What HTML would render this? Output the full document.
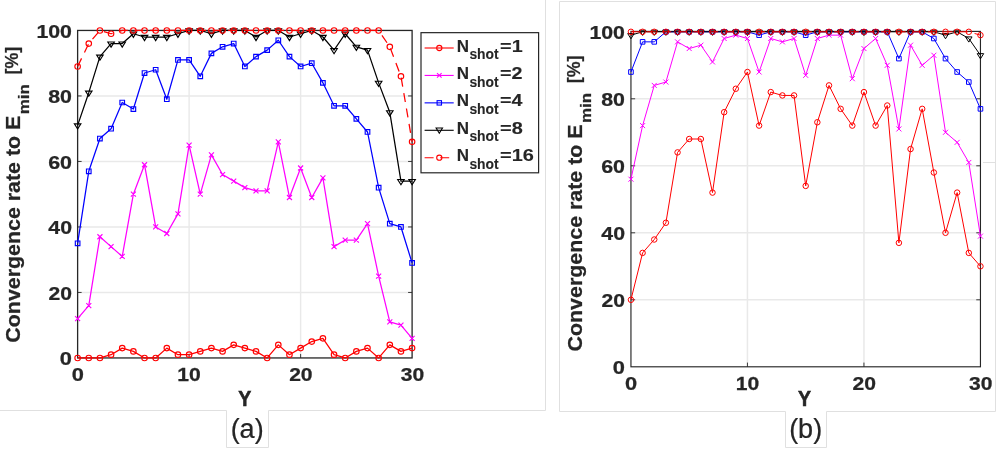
<!DOCTYPE html>
<html><head><meta charset="utf-8"><style>
html,body{margin:0;padding:0;background:#fff;}
svg{display:block;will-change:transform;}
text{font-family:"Liberation Sans", sans-serif;fill:#262626;stroke:#262626;stroke-width:0.25px;}
</style></head><body>
<svg width="996" height="449" viewBox="0 0 996 449">
<rect width="996" height="449" fill="#fff"/>
<path d="M0,410.5H226.5V447.5H268.5V410.5H545.5V0" fill="none" stroke="#e0e0e0" stroke-width="1"/><path d="M559.5,1.5H995.5V411.5H826.5V447.5H785.5V411.5H559.5Z" fill="none" stroke="#e0e0e0" stroke-width="1"/><line x1="983" y1="162.5" x2="995" y2="162.5" stroke="#e0e0e0" stroke-width="1"/>
<line x1="189.11" y1="30.45" x2="189.11" y2="357.95" stroke="#e9e9e9" stroke-width="1.4"/>
<line x1="300.61" y1="30.45" x2="300.61" y2="357.95" stroke="#e9e9e9" stroke-width="1.4"/>
<line x1="77.62" y1="292.45" x2="412.1" y2="292.45" stroke="#e9e9e9" stroke-width="1.4"/>
<line x1="77.62" y1="226.95" x2="412.1" y2="226.95" stroke="#e9e9e9" stroke-width="1.4"/>
<line x1="77.62" y1="161.45" x2="412.1" y2="161.45" stroke="#e9e9e9" stroke-width="1.4"/>
<line x1="77.62" y1="95.95" x2="412.1" y2="95.95" stroke="#e9e9e9" stroke-width="1.4"/>
<rect x="77.62" y="30.45" width="334.48" height="327.5" fill="none" stroke="#262626" stroke-width="1.3"/>
<path d="M189.11,357.95v-4M189.11,30.45v4M300.61,357.95v-4M300.61,30.45v4M77.62,292.45h4M412.1,292.45h-4M77.62,226.95h4M412.1,226.95h-4M77.62,161.45h4M412.1,161.45h-4M77.62,95.95h4M412.1,95.95h-4" stroke="#262626" stroke-width="0.9" fill="none"/>
<polyline points="77.62,357.95 88.77,357.95 99.92,357.95 111.07,354.68 122.22,348.12 133.37,351.4 144.52,357.95 155.67,357.95 166.81,348.12 177.96,354.68 189.11,354.68 200.26,351.4 211.41,348.12 222.56,351.4 233.71,344.85 244.86,348.12 256.01,351.4 267.16,357.95 278.31,344.85 289.46,354.68 300.61,348.12 311.76,341.57 322.91,338.3 334.05,354.68 345.2,357.95 356.35,351.4 367.5,348.12 378.65,357.95 389.8,344.85 400.95,351.4 412.1,348.12" fill="none" stroke="#ff0000" stroke-width="1.25" stroke-linejoin="round"/>
<g fill="none" stroke="#ff0000" stroke-width="1.15"><circle cx="77.62" cy="357.95" r="2.75"/><circle cx="88.77" cy="357.95" r="2.75"/><circle cx="99.92" cy="357.95" r="2.75"/><circle cx="111.07" cy="354.68" r="2.75"/><circle cx="122.22" cy="348.12" r="2.75"/><circle cx="133.37" cy="351.4" r="2.75"/><circle cx="144.52" cy="357.95" r="2.75"/><circle cx="155.67" cy="357.95" r="2.75"/><circle cx="166.81" cy="348.12" r="2.75"/><circle cx="177.96" cy="354.68" r="2.75"/><circle cx="189.11" cy="354.68" r="2.75"/><circle cx="200.26" cy="351.4" r="2.75"/><circle cx="211.41" cy="348.12" r="2.75"/><circle cx="222.56" cy="351.4" r="2.75"/><circle cx="233.71" cy="344.85" r="2.75"/><circle cx="244.86" cy="348.12" r="2.75"/><circle cx="256.01" cy="351.4" r="2.75"/><circle cx="267.16" cy="357.95" r="2.75"/><circle cx="278.31" cy="344.85" r="2.75"/><circle cx="289.46" cy="354.68" r="2.75"/><circle cx="300.61" cy="348.12" r="2.75"/><circle cx="311.76" cy="341.57" r="2.75"/><circle cx="322.91" cy="338.3" r="2.75"/><circle cx="334.05" cy="354.68" r="2.75"/><circle cx="345.2" cy="357.95" r="2.75"/><circle cx="356.35" cy="351.4" r="2.75"/><circle cx="367.5" cy="348.12" r="2.75"/><circle cx="378.65" cy="357.95" r="2.75"/><circle cx="389.8" cy="344.85" r="2.75"/><circle cx="400.95" cy="351.4" r="2.75"/><circle cx="412.1" cy="348.12" r="2.75"/></g>
<polyline points="77.62,318.65 88.77,305.55 99.92,236.77 111.07,246.6 122.22,256.43 133.37,194.2 144.52,164.72 155.67,226.95 166.81,233.5 177.96,213.85 189.11,145.07 200.26,194.2 211.41,154.9 222.56,174.55 233.71,181.1 244.86,187.65 256.01,190.92 267.16,190.92 278.31,141.8 289.46,197.47 300.61,168 311.76,197.47 322.91,177.82 334.05,246.6 345.2,240.05 356.35,240.05 367.5,223.67 378.65,276.07 389.8,321.93 400.95,325.2 412.1,338.3" fill="none" stroke="#ff00ff" stroke-width="1.25" stroke-linejoin="round"/>
<path d="M75.12,316.15L80.12,321.15M75.12,321.15L80.12,316.15M86.27,303.05L91.27,308.05M86.27,308.05L91.27,303.05M97.42,234.27L102.42,239.27M97.42,239.27L102.42,234.27M108.57,244.1L113.57,249.1M108.57,249.1L113.57,244.1M119.72,253.93L124.72,258.93M119.72,258.93L124.72,253.93M130.87,191.7L135.87,196.7M130.87,196.7L135.87,191.7M142.02,162.22L147.02,167.22M142.02,167.22L147.02,162.22M153.17,224.45L158.17,229.45M153.17,229.45L158.17,224.45M164.31,231L169.31,236M164.31,236L169.31,231M175.46,211.35L180.46,216.35M175.46,216.35L180.46,211.35M186.61,142.57L191.61,147.57M186.61,147.57L191.61,142.57M197.76,191.7L202.76,196.7M197.76,196.7L202.76,191.7M208.91,152.4L213.91,157.4M208.91,157.4L213.91,152.4M220.06,172.05L225.06,177.05M220.06,177.05L225.06,172.05M231.21,178.6L236.21,183.6M231.21,183.6L236.21,178.6M242.36,185.15L247.36,190.15M242.36,190.15L247.36,185.15M253.51,188.42L258.51,193.42M253.51,193.42L258.51,188.42M264.66,188.42L269.66,193.42M264.66,193.42L269.66,188.42M275.81,139.3L280.81,144.3M275.81,144.3L280.81,139.3M286.96,194.97L291.96,199.97M286.96,199.97L291.96,194.97M298.11,165.5L303.11,170.5M298.11,170.5L303.11,165.5M309.26,194.97L314.26,199.97M309.26,199.97L314.26,194.97M320.41,175.32L325.41,180.32M320.41,180.32L325.41,175.32M331.55,244.1L336.55,249.1M331.55,249.1L336.55,244.1M342.7,237.55L347.7,242.55M342.7,242.55L347.7,237.55M353.85,237.55L358.85,242.55M353.85,242.55L358.85,237.55M365,221.17L370,226.17M365,226.17L370,221.17M376.15,273.57L381.15,278.57M376.15,278.57L381.15,273.57M387.3,319.43L392.3,324.43M387.3,324.43L392.3,319.43M398.45,322.7L403.45,327.7M398.45,327.7L403.45,322.7M409.6,335.8L414.6,340.8M409.6,340.8L414.6,335.8" fill="none" stroke="#ff00ff" stroke-width="1.15"/>
<polyline points="77.62,243.32 88.77,171.28 99.92,138.53 111.07,128.7 122.22,102.5 133.37,109.05 144.52,73.02 155.67,69.75 166.81,99.23 177.96,59.93 189.11,59.93 200.26,76.3 211.41,53.38 222.56,46.82 233.71,43.55 244.86,66.48 256.01,56.65 267.16,50.1 278.31,40.27 289.46,56.65 300.61,66.48 311.76,63.2 322.91,82.85 334.05,105.78 345.2,105.78 356.35,118.88 367.5,131.97 378.65,187.65 389.8,223.67 400.95,226.95 412.1,262.98" fill="none" stroke="#0000ff" stroke-width="1.25" stroke-linejoin="round"/>
<path d="M75.32,241.02h4.6v4.6h-4.6zM86.47,168.97h4.6v4.6h-4.6zM97.62,136.22h4.6v4.6h-4.6zM108.77,126.4h4.6v4.6h-4.6zM119.92,100.2h4.6v4.6h-4.6zM131.07,106.75h4.6v4.6h-4.6zM142.22,70.72h4.6v4.6h-4.6zM153.37,67.45h4.6v4.6h-4.6zM164.51,96.93h4.6v4.6h-4.6zM175.66,57.63h4.6v4.6h-4.6zM186.81,57.63h4.6v4.6h-4.6zM197.96,74h4.6v4.6h-4.6zM209.11,51.08h4.6v4.6h-4.6zM220.26,44.52h4.6v4.6h-4.6zM231.41,41.25h4.6v4.6h-4.6zM242.56,64.18h4.6v4.6h-4.6zM253.71,54.35h4.6v4.6h-4.6zM264.86,47.8h4.6v4.6h-4.6zM276.01,37.97h4.6v4.6h-4.6zM287.16,54.35h4.6v4.6h-4.6zM298.31,64.18h4.6v4.6h-4.6zM309.46,60.9h4.6v4.6h-4.6zM320.61,80.55h4.6v4.6h-4.6zM331.75,103.48h4.6v4.6h-4.6zM342.9,103.48h4.6v4.6h-4.6zM354.05,116.58h4.6v4.6h-4.6zM365.2,129.67h4.6v4.6h-4.6zM376.35,185.35h4.6v4.6h-4.6zM387.5,221.37h4.6v4.6h-4.6zM398.65,224.65h4.6v4.6h-4.6zM409.8,260.68h4.6v4.6h-4.6z" fill="none" stroke="#0000ff" stroke-width="1.15"/>
<polyline points="77.62,125.42 88.77,92.68 99.92,56.65 111.07,43.55 122.22,43.55 133.37,33.73 144.52,37 155.67,37 166.81,37 177.96,33.73 189.11,30.45 200.26,30.45 211.41,33.73 222.56,30.45 233.71,30.45 244.86,30.45 256.01,37 267.16,30.45 278.31,30.45 289.46,37 300.61,33.73 311.76,30.45 322.91,37 334.05,50.1 345.2,33.73 356.35,46.82 367.5,50.1 378.65,82.85 389.8,112.32 400.95,181.1 412.1,181.1" fill="none" stroke="#000000" stroke-width="1.25" stroke-linejoin="round"/>
<path d="M74.37,123.82L80.87,123.82L77.62,129.02zM85.52,91.08L92.02,91.08L88.77,96.28zM96.67,55.05L103.17,55.05L99.92,60.25zM107.82,41.95L114.32,41.95L111.07,47.15zM118.97,41.95L125.47,41.95L122.22,47.15zM130.12,32.13L136.62,32.13L133.37,37.33zM141.27,35.4L147.77,35.4L144.52,40.6zM152.42,35.4L158.92,35.4L155.67,40.6zM163.56,35.4L170.06,35.4L166.81,40.6zM174.71,32.13L181.21,32.13L177.96,37.33zM185.86,28.85L192.36,28.85L189.11,34.05zM197.01,28.85L203.51,28.85L200.26,34.05zM208.16,32.13L214.66,32.13L211.41,37.33zM219.31,28.85L225.81,28.85L222.56,34.05zM230.46,28.85L236.96,28.85L233.71,34.05zM241.61,28.85L248.11,28.85L244.86,34.05zM252.76,35.4L259.26,35.4L256.01,40.6zM263.91,28.85L270.41,28.85L267.16,34.05zM275.06,28.85L281.56,28.85L278.31,34.05zM286.21,35.4L292.71,35.4L289.46,40.6zM297.36,32.13L303.86,32.13L300.61,37.33zM308.51,28.85L315.01,28.85L311.76,34.05zM319.66,35.4L326.16,35.4L322.91,40.6zM330.8,48.5L337.3,48.5L334.05,53.7zM341.95,32.13L348.45,32.13L345.2,37.33zM353.1,45.22L359.6,45.22L356.35,50.42zM364.25,48.5L370.75,48.5L367.5,53.7zM375.4,81.25L381.9,81.25L378.65,86.45zM386.55,110.72L393.05,110.72L389.8,115.92zM397.7,179.5L404.2,179.5L400.95,184.7zM408.85,179.5L415.35,179.5L412.1,184.7z" fill="none" stroke="#000000" stroke-width="1.15" stroke-linejoin="miter"/>
<polyline points="77.62,66.48 88.77,43.55 99.92,30.45 111.07,33.73 122.22,30.45 133.37,30.45 144.52,30.45 155.67,30.45 166.81,30.45 177.96,30.45 189.11,30.45 200.26,30.45 211.41,30.45 222.56,30.45 233.71,30.45 244.86,30.45 256.01,30.45 267.16,30.45 278.31,30.45 289.46,30.45 300.61,30.45 311.76,30.45 322.91,30.45 334.05,30.45 345.2,30.45 356.35,30.45 367.5,30.45 378.65,30.45 389.8,46.82 400.95,76.3 412.1,141.8" fill="none" stroke="#ff0000" stroke-width="1.25" stroke-linejoin="round" stroke-dasharray="9,6.63"/>
<g fill="none" stroke="#ff0000" stroke-width="1.15"><circle cx="77.62" cy="66.48" r="2.75"/><circle cx="88.77" cy="43.55" r="2.75"/><circle cx="99.92" cy="30.45" r="2.75"/><circle cx="111.07" cy="33.73" r="2.75"/><circle cx="122.22" cy="30.45" r="2.75"/><circle cx="133.37" cy="30.45" r="2.75"/><circle cx="144.52" cy="30.45" r="2.75"/><circle cx="155.67" cy="30.45" r="2.75"/><circle cx="166.81" cy="30.45" r="2.75"/><circle cx="177.96" cy="30.45" r="2.75"/><circle cx="189.11" cy="30.45" r="2.75"/><circle cx="200.26" cy="30.45" r="2.75"/><circle cx="211.41" cy="30.45" r="2.75"/><circle cx="222.56" cy="30.45" r="2.75"/><circle cx="233.71" cy="30.45" r="2.75"/><circle cx="244.86" cy="30.45" r="2.75"/><circle cx="256.01" cy="30.45" r="2.75"/><circle cx="267.16" cy="30.45" r="2.75"/><circle cx="278.31" cy="30.45" r="2.75"/><circle cx="289.46" cy="30.45" r="2.75"/><circle cx="300.61" cy="30.45" r="2.75"/><circle cx="311.76" cy="30.45" r="2.75"/><circle cx="322.91" cy="30.45" r="2.75"/><circle cx="334.05" cy="30.45" r="2.75"/><circle cx="345.2" cy="30.45" r="2.75"/><circle cx="356.35" cy="30.45" r="2.75"/><circle cx="367.5" cy="30.45" r="2.75"/><circle cx="378.65" cy="30.45" r="2.75"/><circle cx="389.8" cy="46.82" r="2.75"/><circle cx="400.95" cy="76.3" r="2.75"/><circle cx="412.1" cy="141.8" r="2.75"/></g>
<line x1="747.45" y1="31.8" x2="747.45" y2="366.8" stroke="#e9e9e9" stroke-width="1.5"/>
<line x1="863.95" y1="31.8" x2="863.95" y2="366.8" stroke="#e9e9e9" stroke-width="1.5"/>
<line x1="630.95" y1="299.8" x2="980.45" y2="299.8" stroke="#e9e9e9" stroke-width="1.5"/>
<line x1="630.95" y1="232.8" x2="980.45" y2="232.8" stroke="#e9e9e9" stroke-width="1.5"/>
<line x1="630.95" y1="165.8" x2="980.45" y2="165.8" stroke="#e9e9e9" stroke-width="1.5"/>
<line x1="630.95" y1="98.8" x2="980.45" y2="98.8" stroke="#e9e9e9" stroke-width="1.5"/>
<rect x="630.95" y="31.4" width="349.5" height="335.4" fill="none" stroke="#262626" stroke-width="1.15"/>
<path d="M747.45,366.8v-4.2M747.45,31.4v4.2M863.95,366.8v-4.2M863.95,31.4v4.2M630.95,299.8h4.2M980.45,299.8h-4.2M630.95,232.8h4.2M980.45,232.8h-4.2M630.95,165.8h4.2M980.45,165.8h-4.2M630.95,98.8h4.2M980.45,98.8h-4.2" stroke="#262626" stroke-width="0.9" fill="none"/>
<polyline points="630.95,299.8 642.6,252.9 654.25,239.5 665.9,222.75 677.55,152.4 689.2,139 700.85,139 712.5,192.6 724.15,112.2 735.8,88.75 747.45,72 759.1,125.6 770.75,92.1 782.4,95.45 794.05,95.45 805.7,185.9 817.35,122.25 829,85.4 840.65,108.85 852.3,125.6 863.95,92.1 875.6,125.6 887.25,105.5 898.9,242.85 910.55,149.05 922.2,108.85 933.85,172.5 945.5,232.8 957.15,192.6 968.8,252.9 980.45,266.3" fill="none" stroke="#ff0000" stroke-width="1.0" stroke-linejoin="round"/>
<g fill="none" stroke="#ff0000" stroke-width="1.0"><circle cx="630.95" cy="299.8" r="2.75"/><circle cx="642.6" cy="252.9" r="2.75"/><circle cx="654.25" cy="239.5" r="2.75"/><circle cx="665.9" cy="222.75" r="2.75"/><circle cx="677.55" cy="152.4" r="2.75"/><circle cx="689.2" cy="139" r="2.75"/><circle cx="700.85" cy="139" r="2.75"/><circle cx="712.5" cy="192.6" r="2.75"/><circle cx="724.15" cy="112.2" r="2.75"/><circle cx="735.8" cy="88.75" r="2.75"/><circle cx="747.45" cy="72" r="2.75"/><circle cx="759.1" cy="125.6" r="2.75"/><circle cx="770.75" cy="92.1" r="2.75"/><circle cx="782.4" cy="95.45" r="2.75"/><circle cx="794.05" cy="95.45" r="2.75"/><circle cx="805.7" cy="185.9" r="2.75"/><circle cx="817.35" cy="122.25" r="2.75"/><circle cx="829" cy="85.4" r="2.75"/><circle cx="840.65" cy="108.85" r="2.75"/><circle cx="852.3" cy="125.6" r="2.75"/><circle cx="863.95" cy="92.1" r="2.75"/><circle cx="875.6" cy="125.6" r="2.75"/><circle cx="887.25" cy="105.5" r="2.75"/><circle cx="898.9" cy="242.85" r="2.75"/><circle cx="910.55" cy="149.05" r="2.75"/><circle cx="922.2" cy="108.85" r="2.75"/><circle cx="933.85" cy="172.5" r="2.75"/><circle cx="945.5" cy="232.8" r="2.75"/><circle cx="957.15" cy="192.6" r="2.75"/><circle cx="968.8" cy="252.9" r="2.75"/><circle cx="980.45" cy="266.3" r="2.75"/></g>
<polyline points="630.95,179.2 642.6,125.6 654.25,85.4 665.9,82.05 677.55,41.85 689.2,48.55 700.85,45.2 712.5,61.95 724.15,38.5 735.8,35.15 747.45,38.5 759.1,72 770.75,38.5 782.4,41.85 794.05,38.5 805.7,75.35 817.35,38.5 829,35.15 840.65,35.15 852.3,78.7 863.95,48.55 875.6,38.5 887.25,65.3 898.9,128.95 910.55,45.2 922.2,65.3 933.85,55.25 945.5,132.3 957.15,142.35 968.8,162.45 980.45,236.15" fill="none" stroke="#ff00ff" stroke-width="1.0" stroke-linejoin="round"/>
<path d="M628.45,176.7L633.45,181.7M628.45,181.7L633.45,176.7M640.1,123.1L645.1,128.1M640.1,128.1L645.1,123.1M651.75,82.9L656.75,87.9M651.75,87.9L656.75,82.9M663.4,79.55L668.4,84.55M663.4,84.55L668.4,79.55M675.05,39.35L680.05,44.35M675.05,44.35L680.05,39.35M686.7,46.05L691.7,51.05M686.7,51.05L691.7,46.05M698.35,42.7L703.35,47.7M698.35,47.7L703.35,42.7M710,59.45L715,64.45M710,64.45L715,59.45M721.65,36L726.65,41M721.65,41L726.65,36M733.3,32.65L738.3,37.65M733.3,37.65L738.3,32.65M744.95,36L749.95,41M744.95,41L749.95,36M756.6,69.5L761.6,74.5M756.6,74.5L761.6,69.5M768.25,36L773.25,41M768.25,41L773.25,36M779.9,39.35L784.9,44.35M779.9,44.35L784.9,39.35M791.55,36L796.55,41M791.55,41L796.55,36M803.2,72.85L808.2,77.85M803.2,77.85L808.2,72.85M814.85,36L819.85,41M814.85,41L819.85,36M826.5,32.65L831.5,37.65M826.5,37.65L831.5,32.65M838.15,32.65L843.15,37.65M838.15,37.65L843.15,32.65M849.8,76.2L854.8,81.2M849.8,81.2L854.8,76.2M861.45,46.05L866.45,51.05M861.45,51.05L866.45,46.05M873.1,36L878.1,41M873.1,41L878.1,36M884.75,62.8L889.75,67.8M884.75,67.8L889.75,62.8M896.4,126.45L901.4,131.45M896.4,131.45L901.4,126.45M908.05,42.7L913.05,47.7M908.05,47.7L913.05,42.7M919.7,62.8L924.7,67.8M919.7,67.8L924.7,62.8M931.35,52.75L936.35,57.75M931.35,57.75L936.35,52.75M943,129.8L948,134.8M943,134.8L948,129.8M954.65,139.85L959.65,144.85M954.65,144.85L959.65,139.85M966.3,159.95L971.3,164.95M966.3,164.95L971.3,159.95M977.95,233.65L982.95,238.65M977.95,238.65L982.95,233.65" fill="none" stroke="#ff00ff" stroke-width="1.0"/>
<polyline points="630.95,72 642.6,41.85 654.25,41.85 665.9,31.8 677.55,31.8 689.2,31.8 700.85,31.8 712.5,31.8 724.15,31.8 735.8,31.8 747.45,31.8 759.1,35.15 770.75,31.8 782.4,31.8 794.05,31.8 805.7,35.15 817.35,31.8 829,31.8 840.65,31.8 852.3,31.8 863.95,31.8 875.6,31.8 887.25,31.8 898.9,58.6 910.55,31.8 922.2,31.8 933.85,38.5 945.5,58.6 957.15,72 968.8,82.05 980.45,108.85" fill="none" stroke="#0000ff" stroke-width="1.0" stroke-linejoin="round"/>
<path d="M628.65,69.7h4.6v4.6h-4.6zM640.3,39.55h4.6v4.6h-4.6zM651.95,39.55h4.6v4.6h-4.6zM663.6,29.5h4.6v4.6h-4.6zM675.25,29.5h4.6v4.6h-4.6zM686.9,29.5h4.6v4.6h-4.6zM698.55,29.5h4.6v4.6h-4.6zM710.2,29.5h4.6v4.6h-4.6zM721.85,29.5h4.6v4.6h-4.6zM733.5,29.5h4.6v4.6h-4.6zM745.15,29.5h4.6v4.6h-4.6zM756.8,32.85h4.6v4.6h-4.6zM768.45,29.5h4.6v4.6h-4.6zM780.1,29.5h4.6v4.6h-4.6zM791.75,29.5h4.6v4.6h-4.6zM803.4,32.85h4.6v4.6h-4.6zM815.05,29.5h4.6v4.6h-4.6zM826.7,29.5h4.6v4.6h-4.6zM838.35,29.5h4.6v4.6h-4.6zM850,29.5h4.6v4.6h-4.6zM861.65,29.5h4.6v4.6h-4.6zM873.3,29.5h4.6v4.6h-4.6zM884.95,29.5h4.6v4.6h-4.6zM896.6,56.3h4.6v4.6h-4.6zM908.25,29.5h4.6v4.6h-4.6zM919.9,29.5h4.6v4.6h-4.6zM931.55,36.2h4.6v4.6h-4.6zM943.2,56.3h4.6v4.6h-4.6zM954.85,69.7h4.6v4.6h-4.6zM966.5,79.75h4.6v4.6h-4.6zM978.15,106.55h4.6v4.6h-4.6z" fill="none" stroke="#0000ff" stroke-width="1.0"/>
<polyline points="630.95,35.15 642.6,31.8 654.25,31.8 665.9,31.8 677.55,31.8 689.2,31.8 700.85,31.8 712.5,31.8 724.15,31.8 735.8,31.8 747.45,31.8 759.1,31.8 770.75,31.8 782.4,31.8 794.05,31.8 805.7,31.8 817.35,31.8 829,31.8 840.65,31.8 852.3,31.8 863.95,31.8 875.6,31.8 887.25,31.8 898.9,31.8 910.55,31.8 922.2,31.8 933.85,31.8 945.5,35.15 957.15,31.8 968.8,38.5 980.45,55.25" fill="none" stroke="#000000" stroke-width="1.0" stroke-linejoin="round"/>
<path d="M627.7,33.55L634.2,33.55L630.95,38.75zM639.35,30.2L645.85,30.2L642.6,35.4zM651,30.2L657.5,30.2L654.25,35.4zM662.65,30.2L669.15,30.2L665.9,35.4zM674.3,30.2L680.8,30.2L677.55,35.4zM685.95,30.2L692.45,30.2L689.2,35.4zM697.6,30.2L704.1,30.2L700.85,35.4zM709.25,30.2L715.75,30.2L712.5,35.4zM720.9,30.2L727.4,30.2L724.15,35.4zM732.55,30.2L739.05,30.2L735.8,35.4zM744.2,30.2L750.7,30.2L747.45,35.4zM755.85,30.2L762.35,30.2L759.1,35.4zM767.5,30.2L774,30.2L770.75,35.4zM779.15,30.2L785.65,30.2L782.4,35.4zM790.8,30.2L797.3,30.2L794.05,35.4zM802.45,30.2L808.95,30.2L805.7,35.4zM814.1,30.2L820.6,30.2L817.35,35.4zM825.75,30.2L832.25,30.2L829,35.4zM837.4,30.2L843.9,30.2L840.65,35.4zM849.05,30.2L855.55,30.2L852.3,35.4zM860.7,30.2L867.2,30.2L863.95,35.4zM872.35,30.2L878.85,30.2L875.6,35.4zM884,30.2L890.5,30.2L887.25,35.4zM895.65,30.2L902.15,30.2L898.9,35.4zM907.3,30.2L913.8,30.2L910.55,35.4zM918.95,30.2L925.45,30.2L922.2,35.4zM930.6,30.2L937.1,30.2L933.85,35.4zM942.25,33.55L948.75,33.55L945.5,38.75zM953.9,30.2L960.4,30.2L957.15,35.4zM965.55,36.9L972.05,36.9L968.8,42.1zM977.2,53.65L983.7,53.65L980.45,58.85z" fill="none" stroke="#000000" stroke-width="1.0" stroke-linejoin="miter"/>
<polyline points="630.95,31.8 642.6,31.8 654.25,31.8 665.9,31.8 677.55,31.8 689.2,31.8 700.85,31.8 712.5,31.8 724.15,31.8 735.8,31.8 747.45,31.8 759.1,31.8 770.75,31.8 782.4,31.8 794.05,31.8 805.7,31.8 817.35,31.8 829,31.8 840.65,31.8 852.3,31.8 863.95,31.8 875.6,31.8 887.25,31.8 898.9,31.8 910.55,31.8 922.2,31.8 933.85,31.8 945.5,31.8 957.15,31.8 968.8,31.8 980.45,35.15" fill="none" stroke="#ff0000" stroke-width="1.0" stroke-linejoin="round" stroke-dasharray="9,6.63"/>
<g fill="none" stroke="#ff0000" stroke-width="1.0"><circle cx="630.95" cy="31.8" r="2.75"/><circle cx="642.6" cy="31.8" r="2.75"/><circle cx="654.25" cy="31.8" r="2.75"/><circle cx="665.9" cy="31.8" r="2.75"/><circle cx="677.55" cy="31.8" r="2.75"/><circle cx="689.2" cy="31.8" r="2.75"/><circle cx="700.85" cy="31.8" r="2.75"/><circle cx="712.5" cy="31.8" r="2.75"/><circle cx="724.15" cy="31.8" r="2.75"/><circle cx="735.8" cy="31.8" r="2.75"/><circle cx="747.45" cy="31.8" r="2.75"/><circle cx="759.1" cy="31.8" r="2.75"/><circle cx="770.75" cy="31.8" r="2.75"/><circle cx="782.4" cy="31.8" r="2.75"/><circle cx="794.05" cy="31.8" r="2.75"/><circle cx="805.7" cy="31.8" r="2.75"/><circle cx="817.35" cy="31.8" r="2.75"/><circle cx="829" cy="31.8" r="2.75"/><circle cx="840.65" cy="31.8" r="2.75"/><circle cx="852.3" cy="31.8" r="2.75"/><circle cx="863.95" cy="31.8" r="2.75"/><circle cx="875.6" cy="31.8" r="2.75"/><circle cx="887.25" cy="31.8" r="2.75"/><circle cx="898.9" cy="31.8" r="2.75"/><circle cx="910.55" cy="31.8" r="2.75"/><circle cx="922.2" cy="31.8" r="2.75"/><circle cx="933.85" cy="31.8" r="2.75"/><circle cx="945.5" cy="31.8" r="2.75"/><circle cx="957.15" cy="31.8" r="2.75"/><circle cx="968.8" cy="31.8" r="2.75"/><circle cx="980.45" cy="35.15" r="2.75"/></g>
<rect x="421" y="32.66" width="117.6" height="140.14" fill="#fff" stroke="#262626" stroke-width="1.2"/><line x1="424.6" y1="48" x2="453.7" y2="48" stroke="#ff0000" stroke-width="1.1"/><circle cx="439.3" cy="48" r="2.6" fill="none" stroke="#ff0000" stroke-width="1.1"/><text transform="translate(456.86,51.5) scale(1.0372,1)" font-size="16.4" font-weight="bold" style="stroke-width:0.1px">N</text><text transform="translate(469.41,59.1) scale(1.0044,1)" font-size="13.8" font-weight="bold" style="stroke-width:0.1px">shot</text><text transform="translate(500.08,51.5) scale(1.2071,1)" font-size="16.4" font-weight="bold" style="stroke-width:0.1px">=1</text><line x1="424.6" y1="75.43" x2="453.7" y2="75.43" stroke="#ff00ff" stroke-width="1.1"/><path d="M437.0,73.13l4.6,4.6M437.0,77.73l4.6,-4.6" stroke="#ff00ff" stroke-width="1.1"/><text transform="translate(456.86,78.93) scale(1.0372,1)" font-size="16.4" font-weight="bold" style="stroke-width:0.1px">N</text><text transform="translate(469.41,86.53) scale(1.0044,1)" font-size="13.8" font-weight="bold" style="stroke-width:0.1px">shot</text><text transform="translate(500.08,78.93) scale(1.2048,1)" font-size="16.4" font-weight="bold" style="stroke-width:0.1px">=2</text><line x1="424.6" y1="102.86" x2="453.7" y2="102.86" stroke="#0000ff" stroke-width="1.1"/><rect x="437.1" y="100.66" width="4.4" height="4.4" fill="none" stroke="#0000ff" stroke-width="1.1"/><text transform="translate(456.86,106.36) scale(1.0372,1)" font-size="16.4" font-weight="bold" style="stroke-width:0.1px">N</text><text transform="translate(469.41,113.96) scale(1.0044,1)" font-size="13.8" font-weight="bold" style="stroke-width:0.1px">shot</text><text transform="translate(500.08,106.36) scale(1.2023,1)" font-size="16.4" font-weight="bold" style="stroke-width:0.1px">=4</text><line x1="424.6" y1="130.29" x2="453.7" y2="130.29" stroke="#000000" stroke-width="1.1"/><path d="M436.1,127.99h6.4l-3.2,5.3z" fill="none" stroke="#000000" stroke-width="1.1"/><text transform="translate(456.86,133.79) scale(1.0372,1)" font-size="16.4" font-weight="bold" style="stroke-width:0.1px">N</text><text transform="translate(469.41,141.39) scale(1.0044,1)" font-size="13.8" font-weight="bold" style="stroke-width:0.1px">shot</text><text transform="translate(500.07,133.79) scale(1.2165,1)" font-size="16.4" font-weight="bold" style="stroke-width:0.1px">=8</text><line x1="424.6" y1="157.72" x2="453.7" y2="157.72" stroke="#ff0000" stroke-width="1.1" stroke-dasharray="9,6.6"/><circle cx="439.3" cy="157.72" r="2.6" fill="none" stroke="#ff0000" stroke-width="1.1"/><text transform="translate(456.86,161.22) scale(1.0372,1)" font-size="16.4" font-weight="bold" style="stroke-width:0.1px">N</text><text transform="translate(469.41,168.82) scale(1.0044,1)" font-size="13.8" font-weight="bold" style="stroke-width:0.1px">shot</text><text transform="translate(500.07,161.22) scale(1.2164,1)" font-size="16.4" font-weight="bold" style="stroke-width:0.1px">=16</text>
<text transform="translate(59.85,365.28) scale(1.1673,1)" font-size="18.7" font-weight="bold">0</text><text transform="translate(612.85,374.13) scale(1.1673,1)" font-size="18.7" font-weight="bold">0</text><text transform="translate(48.49,299.78) scale(1.1286,1)" font-size="18.7" font-weight="bold">20</text><text transform="translate(601.49,307.13) scale(1.1286,1)" font-size="18.7" font-weight="bold">20</text><text transform="translate(48.31,234.28) scale(1.1377,1)" font-size="18.7" font-weight="bold">40</text><text transform="translate(601.31,240.13) scale(1.1377,1)" font-size="18.7" font-weight="bold">40</text><text transform="translate(48.14,168.78) scale(1.1460,1)" font-size="18.7" font-weight="bold">60</text><text transform="translate(601.14,173.13) scale(1.1460,1)" font-size="18.7" font-weight="bold">60</text><text transform="translate(48.23,103.28) scale(1.1415,1)" font-size="18.7" font-weight="bold">80</text><text transform="translate(601.23,106.13) scale(1.1415,1)" font-size="18.7" font-weight="bold">80</text><text transform="translate(36.43,37.78) scale(1.1394,1)" font-size="18.7" font-weight="bold">100</text><text transform="translate(589.43,39.13) scale(1.1394,1)" font-size="18.7" font-weight="bold">100</text><text transform="translate(71.77,381.2) scale(1.1673,1)" font-size="18.7" font-weight="bold">0</text><text transform="translate(625.1,389.9) scale(1.1673,1)" font-size="18.7" font-weight="bold">0</text><text transform="translate(177.34,381.2) scale(1.1294,1)" font-size="18.7" font-weight="bold">10</text><text transform="translate(735.67,389.9) scale(1.1294,1)" font-size="18.7" font-weight="bold">10</text><text transform="translate(289.14,381.2) scale(1.1286,1)" font-size="18.7" font-weight="bold">20</text><text transform="translate(852.48,389.9) scale(1.1286,1)" font-size="18.7" font-weight="bold">20</text><text transform="translate(400.77,381.2) scale(1.1268,1)" font-size="18.7" font-weight="bold">30</text><text transform="translate(969.12,389.9) scale(1.1268,1)" font-size="18.7" font-weight="bold">30</text><text transform="translate(238.32,405.5) scale(0.9185,1)" font-size="21.3" font-weight="bold" style="stroke-width:0.55px">Y</text><text transform="translate(798.07,405.5) scale(0.9185,1)" font-size="21.3" font-weight="bold" style="stroke-width:0.55px">Y</text><g transform="translate(19.8,341.8) rotate(-90)"><text transform="translate(-0.88,0) scale(1.0238,1)" font-size="20.9" font-weight="bold">Convergence rate to E</text><text transform="translate(227.58,9.4) scale(1.0949,1)" font-size="15.5" font-weight="bold">min</text><text transform="translate(267.4,-1.8) scale(0.9375,1)" font-size="19" font-weight="bold">[%]</text></g><g transform="translate(581.8,350.6) rotate(-90)"><text transform="translate(-0.88,0) scale(1.0238,1)" font-size="20.9" font-weight="bold">Convergence rate to E</text><text transform="translate(227.58,9.4) scale(1.0949,1)" font-size="15.5" font-weight="bold">min</text><text transform="translate(267.4,-1.8) scale(0.9375,1)" font-size="19" font-weight="bold">[%]</text></g><text x="230.63" y="437.8" font-size="27" font-weight="normal" fill="#000" style="stroke:#000;stroke-width:0.2px">(a)</text><text x="789.13" y="437.8" font-size="27" font-weight="normal" fill="#000" style="stroke:#000;stroke-width:0.2px">(b)</text>
</svg>
</body></html>
